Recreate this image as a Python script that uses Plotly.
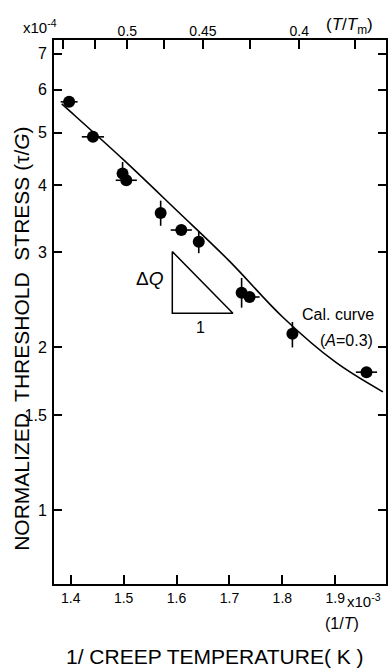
import plotly.graph_objects as go

# ---- data ----
inv_T = [1.397, 1.442, 1.498, 1.505, 1.570, 1.609, 1.642, 1.723, 1.738, 1.819, 1.959]   # 1/T  (x10^-3 K^-1)
stress = [5.70, 4.91, 4.20, 4.08, 3.55, 3.30, 3.14, 2.525, 2.48, 2.12, 1.80]            # tau/G (x10^-4)
xerr = [0.016, 0.021, 0, 0.02, 0, 0.02, 0, 0, 0.019, 0, 0.02]
yerr_plus = [0, 0, 0.21, 0, 0.19, 0, 0.14, 0.165, 0, 0.11, 0]
yerr_minus = [0, 0, 0.12, 0, 0.19, 0, 0.15, 0.155, 0, 0.12, 0]

curve_x = [1.383, 1.4, 1.5, 1.6, 1.7, 1.8, 1.9, 1.99]
curve_y = [5.65, 5.46, 4.45, 3.59, 2.89, 2.28, 1.88, 1.655]

tri_x = [1.592, 1.592, 1.7065, 1.592]
tri_y = [3.01, 2.315, 2.315, 3.01]

y_ticks = [1, 1.5, 2, 3, 4, 5, 6, 7]
y_tick_text = ["1", "1.5", "2", "3", "4", "5", "6", "7"]
x_ticks = [1.4, 1.5, 1.6, 1.7, 1.8, 1.9]
x_tick_text = ["1.4", "1.5", "1.6", "1.7", "1.8", "1.9"]
top_tick_TTm = [0.55, 0.525, 0.5, 0.475, 0.45, 0.425, 0.4, 0.375]
top_tick_invT = [1.385, 1.4456, 1.507, 1.577, 1.650, 1.7386, 1.832, 1.9365]
top_tick_text = ["", "", "0.5", "", "0.45", "", "0.4", ""]

FONT = "Liberation Sans"
X_RANGE = [1.3684, 1.9959]

fig = go.Figure()

fig.add_trace(go.Scatter(
    x=curve_x, y=curve_y, mode="lines", line_shape="spline",
    line=dict(color="black", width=1.6), showlegend=False, hoverinfo="skip"))

# same curve on the top (T/Tm) axis, invisible, so that axis is drawn
fig.add_trace(go.Scatter(
    x=curve_x, y=curve_y, mode="lines", xaxis="x2", opacity=0,
    line=dict(color="black", width=0), showlegend=False, hoverinfo="skip"))

fig.add_trace(go.Scatter(
    x=tri_x, y=tri_y, mode="lines",
    line=dict(color="black", width=1.5), showlegend=False, hoverinfo="skip"))

fig.add_trace(go.Scatter(
    x=inv_T, y=stress, mode="markers",
    marker=dict(color="black", size=12),
    error_x=dict(type="data", array=xerr, color="black", thickness=1.6, width=0),
    error_y=dict(type="data", array=yerr_plus, arrayminus=yerr_minus,
                 color="black", thickness=1.6, width=0),
    showlegend=False))

fig.update_layout(
    template="none",
    width=389, height=668,
    margin=dict(l=54, r=3, t=40, b=84, autoexpand=False),
    paper_bgcolor="white", plot_bgcolor="white",
    font=dict(family=FONT, color="black"),
    xaxis=dict(
        range=X_RANGE, showgrid=False, zeroline=False, automargin=False,
        showline=True, linecolor="black", linewidth=2, mirror=True,
        ticks="inside", ticklen=9, tickwidth=1.5, tickcolor="black",
        tickvals=x_ticks, ticktext=x_tick_text,
        tickfont=dict(size=14, family=FONT)),
    xaxis2=dict(
        overlaying="x", side="top", anchor="y", automargin=False,
        range=X_RANGE, showgrid=False, zeroline=False, showline=False,
        ticks="inside", ticklen=9, tickwidth=1.5, tickcolor="black",
        tickvals=top_tick_invT, ticktext=top_tick_text,
        tickfont=dict(size=14, family=FONT)),
    yaxis=dict(
        type="log", range=[-0.137, 0.8704], showgrid=False, zeroline=False,
        automargin=False,
        showline=True, linecolor="black", linewidth=2, mirror="ticks",
        ticks="inside", ticklen=8, tickwidth=1.5, tickcolor="black",
        tickvals=y_ticks, ticktext=y_tick_text, ticklabelstandoff=2,
        tickfont=dict(size=16, family=FONT)),
)

ann = [
    dict(text="NORMALIZED\u00a0 THRESHOLD\u00a0 STRESS (\u03c4/<i>G</i>)", textangle=-90,
         xref="paper", yref="paper", x=-0.0974, y=0.45, showarrow=False,
         font=dict(size=21), xanchor="center", yanchor="middle"),
    dict(text="1/ CREEP TEMPERATURE( K )", xref="paper", yref="paper",
         x=0.4854, y=-0.134, showarrow=False, font=dict(size=21),
         xanchor="center", yanchor="middle"),
    dict(text="x10<sup>-3</sup>", xref="paper", yref="paper", x=0.934, y=-0.03,
         showarrow=False, font=dict(size=15), xanchor="center", yanchor="middle"),
    dict(text="(1/<i>T</i>)", xref="paper", yref="paper", x=0.868, y=-0.0717,
         showarrow=False, font=dict(size=16), xanchor="center", yanchor="middle"),
    dict(text="x10<sup>-4</sup>", xref="paper", yref="paper", x=-0.042, y=1.024,
         showarrow=False, font=dict(size=15), xanchor="center", yanchor="middle"),
    dict(text="(<i>T</i>/<i>T</i><sub>m</sub>)", xref="paper", yref="paper", x=0.889, y=1.026,
         showarrow=False, font=dict(size=17), xanchor="center", yanchor="middle"),
    dict(text="\u0394<i>Q</i>", xref="x", yref="y", x=1.550, y=0.4281,
         showarrow=False, font=dict(size=19), xanchor="center", yanchor="middle"),
    dict(text="1", xref="x", yref="y", x=1.645, y=0.3376,
         showarrow=False, font=dict(size=16), xanchor="center", yanchor="middle"),
    dict(text="Cal. curve", xref="x", yref="y", x=1.9047, y=0.3624,
         showarrow=False, font=dict(size=16), xanchor="center", yanchor="middle"),
    dict(text="(<i>A</i>=0.3)", xref="x", yref="y", x=1.9219, y=0.3145,
         showarrow=False, font=dict(size=16), xanchor="center", yanchor="middle"),
]
fig.update_layout(annotations=ann)

fig.write_html("out.html",
               config={"displayModeBar": False},
               post_script="document.body.style.margin='0px';document.body.style.overflow='hidden';")
